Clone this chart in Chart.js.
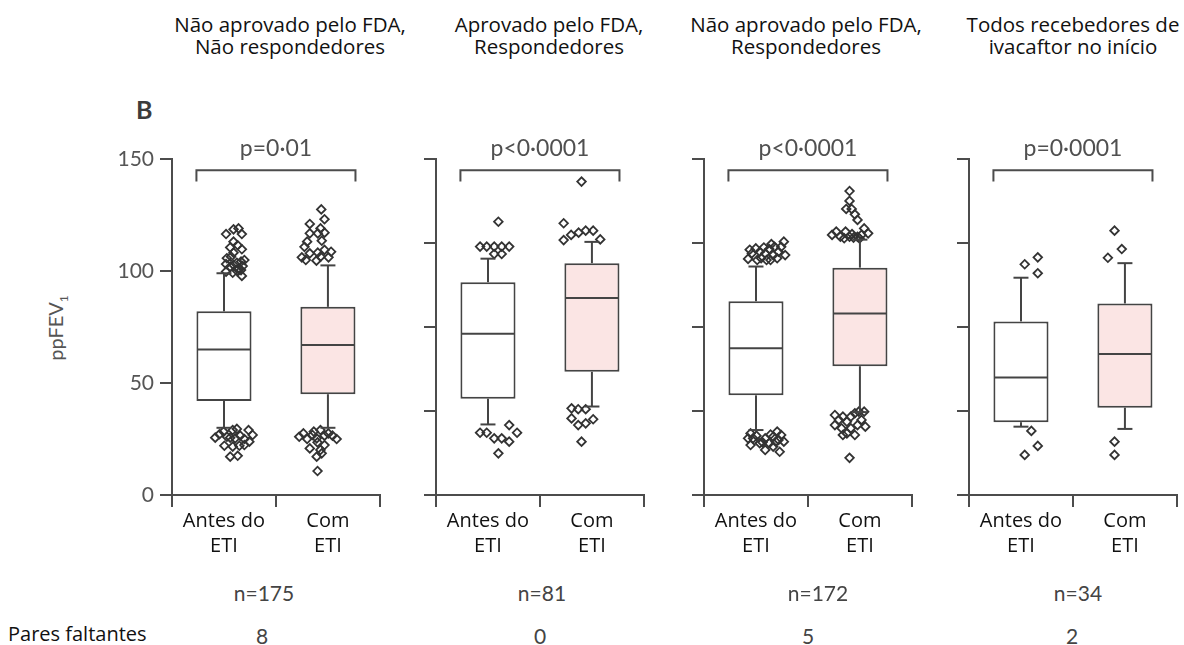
<!DOCTYPE html>
<html lang="pt">
<head>
<meta charset="utf-8">
<title>ppFEV1 antes e com ETI</title>
<script src="https://cdn.jsdelivr.net/npm/chart.js@4.4.0/dist/chart.umd.min.js"></script>
<style>
  html, body { margin: 0; padding: 0; background: #fff; }
  body { width: 1184px; height: 645px; overflow: hidden; position: relative; font-family: "Open Sans", sans-serif; }
  .panel { position: absolute; top: 120px; width: 286px; height: 445px; }
  .title { position: absolute; top: 13px; white-space: nowrap; text-align: center; font-size: 20.5px; line-height: 22px; color: #111; transform: translateX(-50%); }
  .num { position: absolute; white-space: nowrap; font-family: Lato, sans-serif; font-size: 21px; line-height: 24px; color: #444; transform: translateX(-50%); }
  .letter { position: absolute; left: 136px; top: 94px; font-family: Lato, sans-serif; font-weight: bold; font-size: 25px; color: #3c3c3c; }
  .ylab { position: absolute; left: 57px; top: 328px; transform: translate(-50%, -50%) rotate(-90deg); white-space: nowrap; font-family: Lato, sans-serif; font-size: 20px; color: #555; }
  .ylab sub { font-size: 12px; }
  .rowlab { position: absolute; left: 8px; top: 622px; font-size: 20px; line-height: 24px; color: #111; white-space: nowrap; }
</style>
</head>
<body>
<div class="letter">B</div>
<div class="ylab">ppFEV<sub>1</sub></div>
<div class="rowlab">Pares faltantes</div>

<script>
// Subgroups and their labels
const panelTitles = [
  ["Não aprovado pelo FDA,", "Não respondedores"],
  ["Aprovado pelo FDA,", "Respondedores"],
  ["Não aprovado pelo FDA,", "Respondedores"],
  ["Todos recebedores de", "ivacaftor no início"]
];
const groupLabels = [["Antes do", "ETI"], ["Com", "ETI"]];
const pValues = ["p=0·01", "p<0·0001", "p<0·0001", "p=0·0001"];
const pairCounts = ["n=175", "n=81", "n=172", "n=34"];
const missingPairs = ["8", "0", "5", "2"];

// Box-plot summaries per subgroup: [antes do ETI, com ETI]
const whiskerLow  = [[30, 30],   [31.5, 39.5], [29, 37],     [30.5, 29.5]];
const quartile1   = [[42, 45],   [43, 55],     [44.5, 57.5], [32.5, 39]];
const medians     = [[65, 67],   [72, 88],     [65.5, 81],   [52.5, 63]];
const quartile3   = [[82, 84],   [95, 103.5],  [86.5, 101.5],[77.5, 85.5]];
const whiskerHigh = [[99, 102.5],[105.5, 113], [102, 114],   [97, 103.5]];

// Individual values outside the whiskers: [horizontal spread within the group, ppFEV1]
const outliersBefore = [
  [[-0.10,116.5],[-0.01,118.6],[0.05,119],[0.09,116.5],[-0.01,113.1],[0.09,109.7],[-0.01,108.2],[-0.09,105.7],
   [-0.04,106.4],[0.03,103.7],[0.08,104.2],[0.12,104.9],[-0.10,103.1],[-0.05,101.9],[-0.01,102.7],[0.05,101.2],
   [0.10,102.2],[-0.10,99.7],[-0.02,99.2],[0.03,100.1],[0.08,100.4],[0.09,97.8],[0.04,111.5],[-0.05,110.5],
   [-0.23,25.6],[-0.18,27.1],[-0.13,28.3],[-0.09,26],[-0.02,29],[0.03,29.5],[-0.05,25.6],[0.01,25.3],
   [0.07,26.5],[0.12,25],[0.17,29],[0.22,26.8],[0.18,23.8],[-0.12,22],[-0.02,21.6],[0.06,22],
   [-0.05,17.1],[0.04,17.5],[0.12,22.3]],
  [[0,122],[-0.22,110.9],[-0.14,110.9],[-0.05,110.9],[0.04,110.9],[0.13,110.9],[-0.05,107.6],[0.04,107.6],
   [-0.22,27.8],[-0.14,27.8],[0.13,31.2],[0.225,27.8],[-0.05,25.3],[0.04,25.3],[0.13,23.8],[0,18.6]],
  [[-0.22,105.4],[-0.175,107.9],[-0.127,110.1],[-0.079,108.6],[-0.063,105.7],[-0.014,107.9],[0.002,104.9],
   [0.034,109.8],[0.082,107.1],[0.098,110.8],[0.146,108.6],[0.178,110.8],[0.21,113.1],[0.226,107.1],
   [-0.11,104.9],[0.05,104.9],[0.13,105.7],[-0.2,109.5],[-0.03,110.5],[0.06,112],
   [-0.22,25.3],[-0.19,27.5],[-0.16,25.3],[-0.19,22.3],[-0.08,23.1],[-0.014,25.3],[0.034,23.1],[-0.014,20.1],
   [0.082,26],[0.13,28.3],[0.146,24.6],[0.178,26.8],[0.21,23.8],[0.16,19.3],[0.082,21.6],[0.113,23.8],
   [-0.046,23.5],[-0.12,26.5],[0.05,27]],
  [[-0.08,103],[0.077,106.1],[0.077,99],[0,28.6],[0.077,21.9],[-0.08,17.9]]
];
const outliersWith = [
  [[0.045,127.5],[0.084,123.1],[-0.093,121],[0.036,119],[0.084,117.1],[-0.093,116.8],[0.003,116.8],[-0.125,113.1],
   [0.051,113.5],[-0.157,110.8],[-0.093,107.9],[-0.189,106.1],[0.003,108.2],[0.084,109.4],[0.163,108.6],
   [0.132,106.1],[0.036,106.4],[-0.013,104.6],[-0.141,104.9],
   [-0.22,26],[-0.17,27.5],[-0.125,25],[-0.06,26.8],[-0.01,25.3],[0.035,29],[0.084,26.5],[0.13,27.5],
   [0.18,26.5],[0.23,25],[0.084,22.3],[-0.093,20.8],[0.035,20.1],[-0.01,17.1],[0,10.7],[-0.045,28.3],
   [0.05,18.6],[0,23.5]],
  [[0,139.9],[-0.215,121.3],[-0.215,113.8],[-0.125,116.1],[-0.035,117.1],[0.05,118],[0.14,118],[0.225,114.1],
   [-0.12,38.7],[-0.04,38.3],[0.05,38.3],[-0.12,34.2],[-0.04,31.2],[0.05,32],[0.14,33.8],[0,23.8]],
  [[0,135.7],[0,131.3],[-0.04,127.7],[0.026,127.7],[0.064,125.3],[0.096,122.8],[-0.21,116.1],[-0.16,117.6],
   [-0.11,115.3],[-0.048,117.6],[0,115.3],[0.048,114.9],[0.096,115.3],[0.144,116.1],[0.176,119],[0.224,116.8],
   [-0.064,114.6],[0.03,116.5],[0.12,114.5],
   [-0.176,35.7],[-0.128,33.5],[-0.08,35],[-0.176,31.2],[-0.096,29.8],[-0.032,32.7],[0.016,35],[0.064,36.5],
   [0.112,37.2],[0.176,37.2],[0.144,33.5],[0.096,31.2],[0.016,29.8],[-0.032,27.5],[0.064,26.8],[-0.08,26.8],
   [0.19,30.5],[0,16.6]],
  [[0,118],[0.087,109.8],[-0.08,105.9],[0,23.8],[0,17.9]]
];

const yTickStep = [50, 37.5, 37.5, 37.5];

// Layout of the four panels
const panelLeft = [100, 364, 632, 897];
const titleCenter = [290, 549, 806, 1073];
const countCenter = [264, 542, 818, 1078];
const missingCenter = [262, 540, 808, 1072];

const AXIS = '#4c4c4c';
const INK = '#444444';

// Median line, whiskers, comparison bracket and p-value on top of the boxes
const boxDetails = {
  id: 'boxDetails',
  afterDatasetsDraw(chart, args, opts) {
    const p = opts.panel;
    const ctx = chart.ctx;
    const y = chart.scales.y;
    const bars = chart.getDatasetMeta(0).data;
    const seg = (x1, y1, x2, y2) => { ctx.beginPath(); ctx.moveTo(x1, y1); ctx.lineTo(x2, y2); ctx.stroke(); };
    ctx.save();
    ctx.strokeStyle = INK;
    ctx.lineWidth = 2;
    bars.forEach((bar, g) => {
      const half = bar.width / 2;
      const cx = bar.x;
      const cap = 7.5;
      const ym = y.getPixelForValue(medians[p][g]);
      seg(cx - half + 1, ym, cx + half - 1, ym);
      const yq1 = y.getPixelForValue(quartile1[p][g]);
      const yq3 = y.getPixelForValue(quartile3[p][g]);
      const ylo = y.getPixelForValue(whiskerLow[p][g]);
      const yhi = y.getPixelForValue(whiskerHigh[p][g]);
      seg(cx, yq3, cx, yhi); seg(cx - cap, yhi, cx + cap, yhi);
      seg(cx, yq1, cx, ylo); seg(cx - cap, ylo, cx + cap, ylo);
    });
    const left = bars[0].x - bars[0].width / 2;
    const right = bars[1].x + bars[1].width / 2;
    const yb = y.getPixelForValue(opts.bracketTop);
    const ye = y.getPixelForValue(opts.bracketEnd);
    ctx.strokeStyle = AXIS;
    ctx.beginPath();
    ctx.moveTo(left, ye); ctx.lineTo(left, yb); ctx.lineTo(right, yb); ctx.lineTo(right, ye);
    ctx.stroke();
    ctx.fillStyle = '#505050';
    ctx.font = '23px Lato';
    ctx.textAlign = 'center';
    ctx.textBaseline = 'alphabetic';
    ctx.fillText(pValues[p], (left + right) / 2, yb - 14);
    ctx.restore();
  }
};

function makePanel(p) {
  const wrap = document.createElement('div');
  wrap.className = 'panel';
  wrap.style.left = panelLeft[p] + 'px';
  const canvas = document.createElement('canvas');
  canvas.width = 286; canvas.height = 445;
  wrap.appendChild(canvas);
  document.body.appendChild(wrap);

  const points = outliersBefore[p].map(([dx, v]) => ({ x: 0 + dx, y: v }))
    .concat(outliersWith[p].map(([dx, v]) => ({ x: 1 + dx, y: v })));

  new Chart(canvas, {
    type: 'bar',
    data: {
      labels: groupLabels,
      datasets: [
        {
          type: 'bar',
          data: [[quartile1[p][0], quartile3[p][0]], [quartile1[p][1], quartile3[p][1]]],
          backgroundColor: ['#ffffff', '#fbe5e4'],
          borderColor: INK,
          borderWidth: 2,
          borderSkipped: false,
          grouped: false,
          barPercentage: 0.53,
          categoryPercentage: 1,
          xAxisID: 'x',
          yAxisID: 'y'
        },
        {
          type: 'scatter',
          data: points,
          xAxisID: 'xj',
          yAxisID: 'y',
          pointStyle: 'rectRot',
          pointRadius: 4.3,
          pointBorderWidth: 1.8,
          pointBorderColor: '#333333',
          pointBackgroundColor: 'rgba(0,0,0,0)',
          showLine: false
        }
      ]
    },
    options: {
      responsive: false,
      animation: false,
      devicePixelRatio: 1,
      layout: { padding: { top: 39, right: 6, left: 0, bottom: 0 } },
      plugins: {
        legend: { display: false },
        tooltip: { enabled: false },
        boxDetails: { panel: p, bracketTop: 145, bracketEnd: 140 }
      },
      scales: {
        x: {
          type: 'category',
          offset: true,
          grid: { offset: true, drawOnChartArea: false, drawTicks: true, tickLength: 12, color: AXIS, lineWidth: 2 },
          border: { display: true, color: AXIS, width: 2 },
          ticks: {
            font: { family: 'Open Sans', size: 20, lineHeight: 1.25 },
            color: '#111', padding: 2, maxRotation: 0, autoSkip: false
          },
          afterFit(s) { s.height = 70; }
        },
        xj: {
          type: 'linear', axis: 'x', position: 'bottom', display: false, min: -0.5, max: 1.5
        },
        y: {
          type: 'linear', min: 0, max: 150,
          grid: { drawOnChartArea: false, drawTicks: true, tickLength: 12, color: AXIS, lineWidth: 2 },
          border: { display: true, color: AXIS, width: 2 },
          ticks: {
            display: p === 0, stepSize: yTickStep[p],
            font: { family: 'Lato', size: 21 }, color: '#555', padding: 6
          },
          afterFit(s) { s.width = 72; }
        }
      }
    },
    plugins: [boxDetails]
  });

  const t = document.createElement('div');
  t.className = 'title';
  t.style.left = titleCenter[p] + 'px';
  t.innerHTML = panelTitles[p].join('<br>');
  document.body.appendChild(t);

  const n = document.createElement('div');
  n.className = 'num';
  n.style.left = countCenter[p] + 'px';
  n.style.top = '581px';
  n.textContent = pairCounts[p];
  document.body.appendChild(n);

  const m = document.createElement('div');
  m.className = 'num';
  m.style.left = missingCenter[p] + 'px';
  m.style.top = '624px';
  m.textContent = missingPairs[p];
  document.body.appendChild(m);
}

for (let p = 0; p < 4; p++) makePanel(p);
</script>
</body>
</html>
